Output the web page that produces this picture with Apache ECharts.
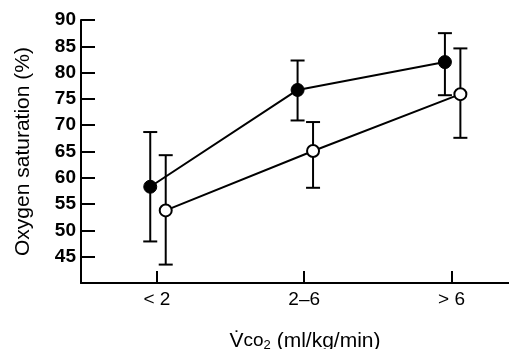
<!DOCTYPE html>
<html>
<head>
<meta charset="utf-8">
<script src="https://cdn.jsdelivr.net/npm/echarts@6/dist/echarts.min.js"></script>
<style>
  html, body { margin: 0; padding: 0; background: #fff; }
  #chart { width: 509px; height: 349px; }
</style>
</head>
<body>
<div id="chart"></div>
<script>
const categories = ['< 2', '2–6', '> 6']
const yTicks = [45, 50, 55, 60, 65, 70, 75, 80, 85, 90]

// filled circles
const filledMean = [58.3, 76.7, 82.0]
const filledLow = [47.9, 70.9, 75.7]
const filledHigh = [68.7, 82.3, 87.5]

// open circles
const openMean = [53.8, 65.1, 75.9]
const openLow = [43.5, 58.1, 67.6]
const openHigh = [64.3, 70.6, 84.6]

const FONT = 'Liberation Sans, Arial, sans-serif'
const filledShift = -0.045
const openShift = 0.06

const chart = echarts.init(document.getElementById('chart'))

function points(mean, shift) {
  return mean.map((v, i) => [i + shift, v])
}
function bars(low, high, shift) {
  return low.map((v, i) => [i + shift, v, high[i]])
}

function renderBar(params, api) {
  const x = api.value(0)
  const lo = api.coord([x, api.value(1)])
  const hi = api.coord([x, api.value(2)])
  const cap = 7
  const style = { stroke: '#000', lineWidth: 2 }
  return {
    type: 'group',
    children: [
      { type: 'line', shape: { x1: lo[0], y1: lo[1], x2: hi[0], y2: hi[1] }, style: style },
      { type: 'line', shape: { x1: lo[0] - cap, y1: lo[1], x2: lo[0] + cap, y2: lo[1] }, style: style },
      { type: 'line', shape: { x1: hi[0] - cap, y1: hi[1], x2: hi[0] + cap, y2: hi[1] }, style: style }
    ]
  }
}

const option = {
  animation: false,
  grid: { left: 81, top: 20, right: 0, bottom: 66, outerBoundsMode: 'none' },
  xAxis: {
    type: 'value',
    min: -0.515,
    max: 2.39,
    name: '{v|V̇}{co|co}{s|2}{r| (ml/kg/min)}',
    nameLocation: 'middle',
    nameGap: 47,
    nameTextStyle: {
      padding: [0, 0, 0, 20],
      rich: {
        v: { fontFamily: FONT, fontSize: 21, color: '#000' },
        co: { fontFamily: FONT, fontSize: 19, color: '#000' },
        s: { fontFamily: FONT, fontSize: 13, color: '#000', padding: [9, 0, 0, 0] },
        r: { fontFamily: FONT, fontSize: 21, color: '#000' }
      }
    },
    axisLine: { onZero: false, lineStyle: { color: '#000', width: 2 } },
    axisTick: { customValues: [0, 1, 2], inside: true, length: 12, lineStyle: { color: '#000', width: 2 } },
    axisLabel: {
      customValues: [0, 1, 2],
      formatter: (v) => categories[Math.round(v)],
      color: '#000',
      fontFamily: FONT,
      fontSize: 19,
      margin: 7
    },
    splitLine: { show: false }
  },
  yAxis: {
    type: 'value',
    min: 40,
    max: 90,
    name: 'Oxygen saturation (%)',
    nameLocation: 'middle',
    nameGap: 47,
    nameTextStyle: { fontFamily: FONT, fontSize: 21, color: '#000' },
    axisLine: { show: true, onZero: false, lineStyle: { color: '#000', width: 2 } },
    axisTick: { customValues: yTicks, inside: true, length: 14, lineStyle: { color: '#000', width: 2 } },
    axisLabel: {
      customValues: yTicks,
      color: '#000',
      fontFamily: FONT,
      fontWeight: 'bold',
      fontSize: 19,
      margin: 5
    },
    splitLine: { show: false }
  },
  series: [
    {
      type: 'custom',
      renderItem: renderBar,
      data: bars(filledLow, filledHigh, filledShift),
      z: 1
    },
    {
      type: 'custom',
      renderItem: renderBar,
      data: bars(openLow, openHigh, openShift),
      z: 1
    },
    {
      type: 'line',
      data: points(filledMean, filledShift),
      symbol: 'circle',
      symbolSize: 13,
      lineStyle: { color: '#000', width: 2 },
      itemStyle: { color: '#000', borderColor: '#000', borderWidth: 1 },
      z: 3
    },
    {
      type: 'line',
      data: points(openMean, openShift),
      symbol: 'circle',
      symbolSize: 12,
      lineStyle: { color: '#000', width: 2 },
      itemStyle: { color: '#fff', borderColor: '#000', borderWidth: 2 },
      z: 3
    }
  ]
}

chart.setOption(option)
</script>
</body>
</html>
